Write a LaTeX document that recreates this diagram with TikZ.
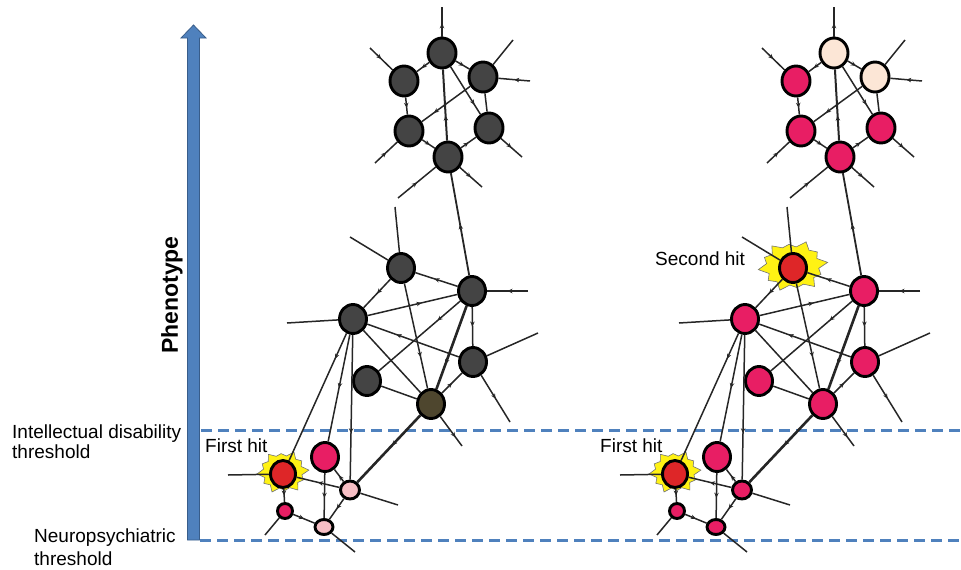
\documentclass[tikz,border=0pt]{standalone}
\usepackage{fontspec}
\setmainfont{Liberation Sans}
\usetikzlibrary{shapes.geometric,arrows.meta,decorations.markings}

\definecolor{dgray}{RGB}{68,68,68}
\definecolor{olivenode}{RGB}{78,70,46}
\definecolor{hitred}{RGB}{222,38,40}
\definecolor{mpink}{RGB}{232,30,100}
\definecolor{lpink}{RGB}{246,190,196}
\definecolor{cream}{RGB}{252,230,214}
\definecolor{burstyellow}{RGB}{255,242,20}
\definecolor{phblue}{RGB}{79,129,189}
\definecolor{phdark}{RGB}{56,93,138}

% unit starburst outline (12 irregular spikes)
\newcommand\burstoutline{(0:1.0) -- (15:0.74) -- (30:0.86) -- (45:0.74) -- (60:1.0) -- (75:0.76) -- (90:0.84) -- (105:0.74) -- (120:1.0) -- (135:0.76) -- (150:0.9) -- (165:0.74) -- (180:1.0) -- (195:0.76) -- (210:0.88) -- (225:0.74) -- (240:0.98) -- (255:0.76) -- (270:0.84) -- (285:0.74) -- (300:1.0) -- (315:0.76) -- (330:0.88) -- (345:0.74) -- cycle}

\newcommand\netgraph{%
  \begin{scope}[shift={(283,472)}, xscale=26, yscale=22, rotate=5]
    \draw[burst] \burstoutline;
  \end{scope}
  % top cluster
  \node[nd,tn,gT,cT1] (T1) at (442,53) {};
  \node[nd,tn,gT,cT2] (T2) at (404,81) {};
  \node[nd,tn,gT,cT3] (T3) at (483,77) {};
  \node[nd,tn,gT,cT4] (T4) at (409,131) {};
  \node[nd,tn,gT,cT5] (T5) at (489,128) {};
  \node[nd,tn,gT,cT6] (T6) at (448,157) {};
  % middle cluster
  \node[nd,mn,gM,cM1] (M1) at (401,268) {};
  \node[nd,mn,gM,cM2] (M2) at (472,291) {};
  \node[nd,mn,gM,cM3] (M3) at (353,319) {};
  \node[nd,mn,gM,cM4] (M4) at (473,362) {};
  \node[nd,mn,gM,cM5] (M5) at (367,381) {};
  \node[nd,mn,gM,cM6] (M6) at (431,404) {};
  % bottom cluster
  \node[nd,gB,cB1,minimum width=25pt,minimum height=27pt] (B1) at (283,474) {};
  \node[nd,gB,cB2,minimum width=27pt,minimum height=29pt] (B2) at (325,457) {};
  \node[nd,gB,cB3,minimum width=19pt,minimum height=18pt] (B3) at (350,490) {};
  \node[nd,gB,cB4,minimum width=15pt,minimum height=15pt] (B4) at (285,511) {};
  \node[nd,gB,cB5,minimum width=18pt,minimum height=15pt] (B5) at (324,527) {};
  % free ends
  \coordinate (eT1) at (442,7);
  \coordinate (eT2) at (370,48);
  \coordinate (eT3a) at (513,40);
  \coordinate (eT3b) at (530,81);
  \coordinate (eT4) at (375,163);
  \coordinate (eT5) at (522,157);
  \coordinate (eT6a) at (398,198);
  \coordinate (eT6b) at (482,187);
  \coordinate (eM1a) at (395,207);
  \coordinate (eM1b) at (350,237);
  \coordinate (eM2) at (528,291);
  \coordinate (eM3) at (287,323);
  \coordinate (eM4a) at (538,333);
  \coordinate (eM4b) at (510,422);
  \coordinate (eM6) at (462,446);
  \coordinate (eB1) at (228,475);
  \coordinate (eB3) at (398,505);
  \coordinate (eB4) at (265,535);
  \coordinate (eB5) at (355,552);
  % top edges
  \draw[ed,ma=0.45] (T1) -- (eT1);
  \draw[ed,ma] (eT2) -- (T2);
  \draw[ed,ma=0.6] (T1) -- (T2);
  \draw[ed,ma=0.6] (T1) -- (T3);
  \draw[ed] (T3) -- (eT3a);
  \draw[ed,ma] (eT3b) -- (T3);
  \draw[ed,ma=0.6] (T2) -- (T4);
  \draw[ed,ma=0.75] (T3) -- (T4);
  \draw[ed,line width=2pt,ma=0.35] (T6) -- (T1);
  \draw[ed,ma=0.8] (T1) -- (T5);
  \draw[ed] (T3) -- (T5);
  \draw[ed,ma] (eT4) -- (T4);
  \draw[ed,ma=0.6] (T4) -- (T6);
  \draw[ed,ma] (T6) -- (T5);
  \draw[ed,ma] (T5) -- (eT5);
  \draw[ed,ma] (eT6a) -- (T6);
  \draw[ed,ma] (T6) -- (eT6b);
  \draw[ed,line width=1.8pt,ma=0.5] (M2) -- (T6);
  % middle edges
  \draw[ed] (M1) -- (eM1a);
  \draw[ed] (eM1b) -- (M1);
  \draw[ed,ma=0.55] (M2) -- (M1);
  \draw[ed,ma] (M1) -- (M3);
  \draw[ed,ma=0.6] (M3) -- (M2);
  \draw[ed] (M3) -- (eM3);
  \draw[ed,ma] (eM2) -- (M2);
  \draw[ed,ma=0.28] (M2) -- (M5);
  \draw[ed,ma=0.68] (M4) -- (M3);
  \draw[ed,ma] (M2) -- (M4);
  \draw[ed] (M4) -- (eM4a);
  \draw[ed,ma] (M4) -- (eM4b);
  \draw[ed,ma=0.7] (M1) -- (M6);
  \draw[ed] (M3) -- (M6);
  \draw[ed,thk,ma=0.7] (M2) -- (M6);
  \draw[ed,ma] (M6) -- (M4);
  \draw[ed] (M5) -- (M6);
  \draw[ed,ma=0.7] (M6) -- (eM6);
  \draw[ed,ma=0.2] (M3) -- (B1);
  \draw[ed,ma=0.5] (M3) -- (B2);
  \draw[ed,ma=0.68] (M3) -- (B3);
  \draw[ed,thk,ma=0.45] (M6) -- (B3);
  % bottom edges
  \draw[ed] (eB1) -- (B1);
  \draw[ed,ma] (B3) -- (B1);
  \draw[ed,ma] (B1) -- (B4);
  \draw[ed,ma=0.55] (B2) -- (B5);
  \draw[ed,ma] (B3) -- (B2);
  \draw[ed,ma] (B3) -- (B5);
  \draw[ed,ma] (B4) -- (B5);
  \draw[ed] (B3) -- (eB3);
  \draw[ed] (B4) -- (eB4);
  \draw[ed] (B5) -- (eB5);
}

\begin{document}
\begin{tikzpicture}[x=1pt,y=-1pt,
  nd/.style={ellipse, draw=black, line width=2.9pt, inner sep=0pt},
  tn/.style={minimum width=28pt, minimum height=30pt},
  mn/.style={minimum width=27pt, minimum height=29pt},
  ed/.style={draw=black!85, line width=1.5pt},
  thk/.style={line width=2.6pt},
  ma/.style={postaction={decorate},decoration={markings,mark=at position #1 with {\arrow{Stealth[length=5pt,width=4.5pt]}}}},
  ma/.default=0.5,
  burst/.style={fill=burstyellow, draw=black!55, line width=0.6pt, line join=miter},
  lbl/.style={inner sep=0pt, anchor=base west, font=\fontsize{19}{21}\selectfont},
  thr/.style={draw=phblue, line width=2.2pt, dash pattern=on 11pt off 6pt},
  gT/.style={}, gM/.style={}, gB/.style={},
  cT1/.style={}, cT2/.style={}, cT3/.style={}, cT4/.style={}, cT5/.style={}, cT6/.style={},
  cM1/.style={}, cM2/.style={}, cM3/.style={}, cM4/.style={}, cM5/.style={}, cM6/.style={},
  cB1/.style={}, cB2/.style={}, cB3/.style={}, cB4/.style={}, cB5/.style={}
]
\useasboundingbox (0,0) rectangle (961,570);

% phenotype arrow
\draw[fill=phblue, draw=phdark, line width=0.8pt]
  (187.5,540) -- (187.5,38) -- (181,38) -- (193.5,25) -- (206,38) -- (199.5,38) -- (199.5,540) -- cycle;
\node[rotate=90, inner sep=0pt, font=\bfseries\fontsize{23}{26}\selectfont] (lph) at (172,295) {Phenotype};

% thresholds
\draw[thr] (201,430.5) -- (961,430.5);
\draw[thr] (200,540.5) -- (961,540.5);

\node[lbl] (lid1) at (12,438) {Intellectual disability};
\node[lbl] (lid2) at (12,458.5) {threshold};
\node[lbl] (lnp1) at (34,542) {Neuropsychiatric};
\node[lbl] (lnp2) at (34,565) {threshold};
\node[lbl] (lfh1) at (205,452) {First hit};
\node[lbl] (lfh2) at (600,452) {First hit};
\node[lbl] (lsh) at (655,265) {Second hit};

% left network
\begin{scope}[name prefix=L-,
  gT/.style={fill=dgray}, gM/.style={fill=dgray},
  cM6/.style={fill=olivenode},
  cB1/.style={fill=hitred}, cB2/.style={fill=mpink}, cB3/.style={fill=lpink},
  cB4/.style={fill=mpink}, cB5/.style={fill=lpink}]
  \netgraph
\end{scope}

% right network
\begin{scope}[xshift=392pt, name prefix=R-,
  gT/.style={fill=mpink}, gM/.style={fill=mpink}, gB/.style={fill=mpink},
  cT1/.style={fill=cream}, cT3/.style={fill=cream},
  cM1/.style={fill=hitred}, cB1/.style={fill=hitred}]
  \begin{scope}[shift={(401,266)}, xscale=35, yscale=26, rotate=8]
    \draw[burst] \burstoutline;
  \end{scope}
  \netgraph
\end{scope}
\end{tikzpicture}
\end{document}
